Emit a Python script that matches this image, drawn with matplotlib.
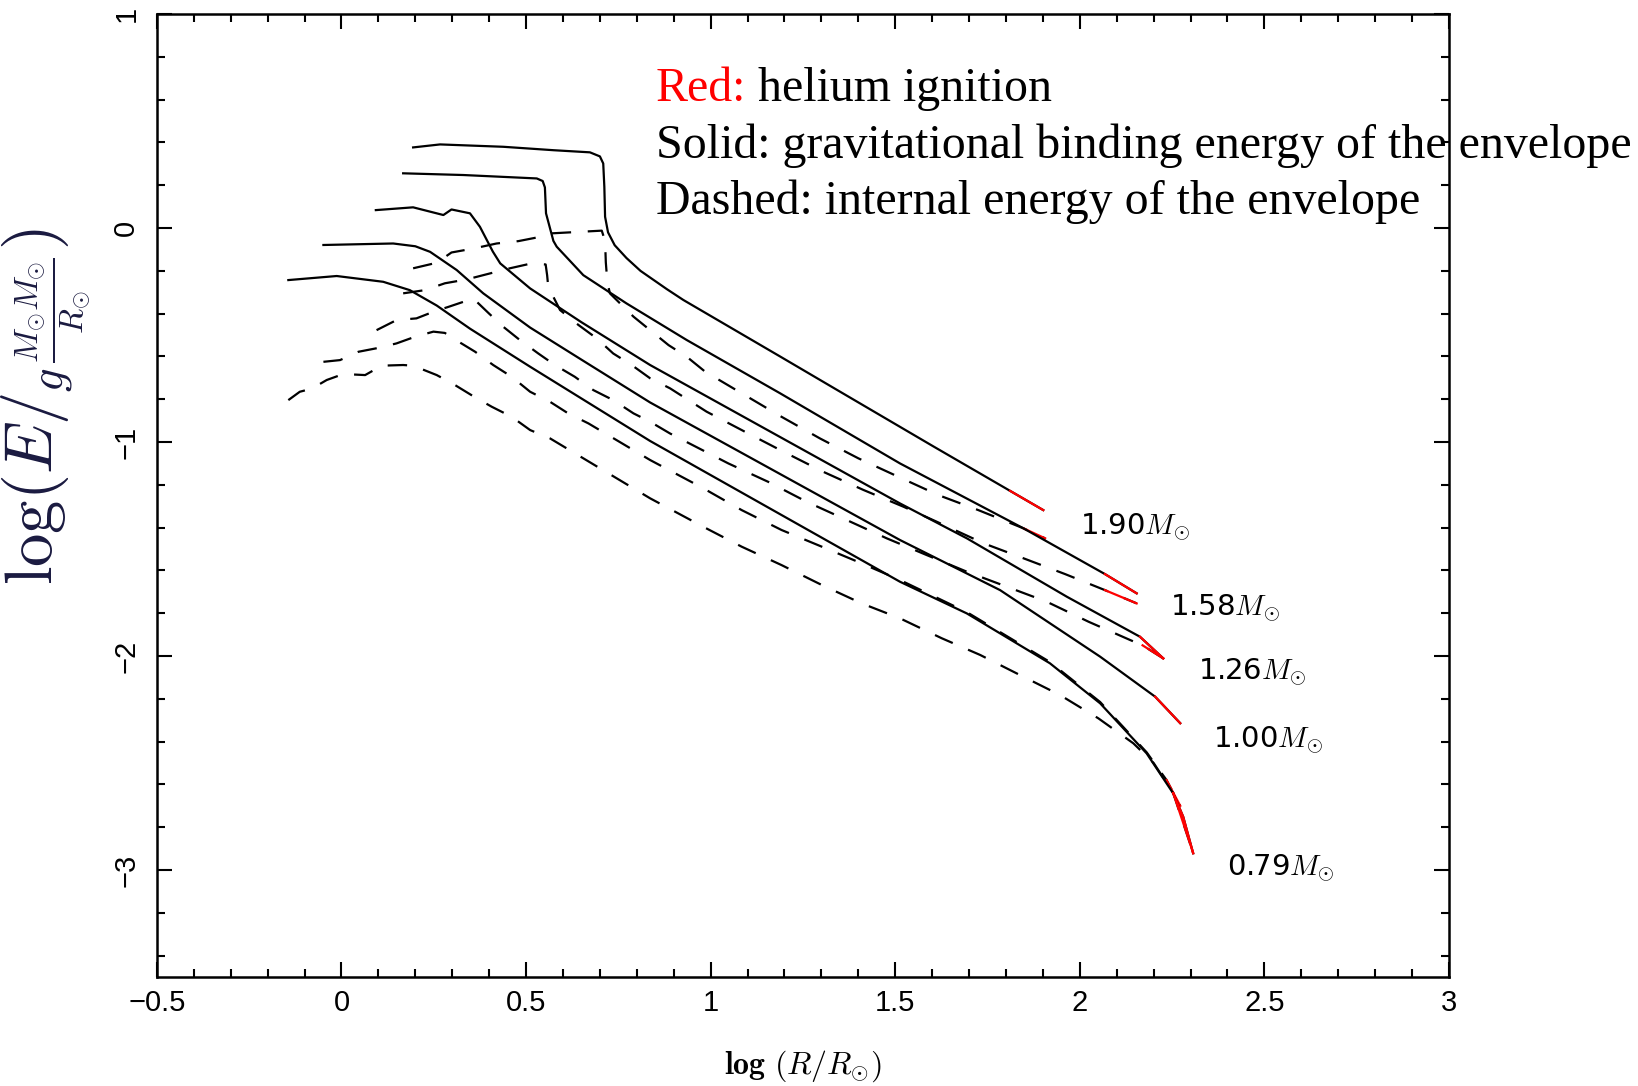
import numpy as np
import matplotlib.pyplot as plt
from matplotlib.ticker import MultipleLocator, FuncFormatter

plt.rcParams['lines.scale_dashes'] = False

masses = ['1.90', '1.58', '1.26', '1.00', '0.79']

# solid: gravitational binding energy of the envelope
grav_x_190 = [0.194, 0.267, 0.438, 0.574, 0.673, 0.700, 0.709, 0.712, 0.714, 0.722, 0.740, 0.772, 0.810, 0.881, 0.926, 1.188, 1.341, 1.603, 1.811, 1.901]
grav_y_190 = [0.377, 0.391, 0.380, 0.364, 0.354, 0.335, 0.302, 0.193, 0.053, -0.020, -0.080, -0.140, -0.200, -0.285, -0.336, -0.600, -0.755, -1.020, -1.228, -1.318]
grav_x_158 = [0.167, 0.330, 0.529, 0.545, 0.551, 0.554, 0.574, 0.583, 0.655, 0.772, 0.935, 1.188, 1.513, 1.847, 2.068, 2.154]
grav_y_158 = [0.256, 0.248, 0.232, 0.220, 0.190, 0.069, -0.060, -0.087, -0.220, -0.352, -0.523, -0.772, -1.100, -1.403, -1.617, -1.707]
grav_x_126 = [0.093, 0.194, 0.276, 0.298, 0.348, 0.375, 0.410, 0.430, 0.511, 0.650, 0.836, 1.513, 1.694, 1.965, 2.163, 2.226]
grav_y_126 = [0.084, 0.097, 0.061, 0.087, 0.069, 0.006, -0.110, -0.165, -0.282, -0.440, -0.640, -1.287, -1.450, -1.723, -1.910, -2.011]
grav_x_100 = [-0.049, 0.140, 0.200, 0.240, 0.312, 0.384, 0.511, 0.650, 0.836, 1.513, 1.784, 2.055, 2.204, 2.272]
grav_y_100 = [-0.079, -0.072, -0.085, -0.111, -0.196, -0.305, -0.465, -0.615, -0.815, -1.458, -1.692, -2.003, -2.190, -2.314]
grav_x_079 = [-0.144, -0.013, 0.113, 0.185, 0.258, 0.348, 0.511, 0.836, 1.513, 1.694, 1.919, 2.055, 2.181, 2.253, 2.280, 2.307]
grav_y_079 = [-0.243, -0.224, -0.251, -0.290, -0.362, -0.470, -0.648, -0.995, -1.653, -1.801, -2.034, -2.221, -2.455, -2.642, -2.751, -2.922]

# dashed: internal energy of the envelope
int_x_190 = [0.194, 0.258, 0.298, 0.359, 0.420, 0.479, 0.538, 0.565, 0.651, 0.705, 0.714, 0.716, 0.720, 0.727, 0.791, 0.836, 0.886, 0.935, 0.985, 1.084, 1.192, 1.296, 1.400, 1.508, 1.617, 1.725, 1.847, 1.906]
int_y_190 = [-0.188, -0.162, -0.114, -0.095, -0.072, -0.061, -0.041, -0.025, -0.017, -0.012, -0.060, -0.160, -0.250, -0.305, -0.414, -0.477, -0.547, -0.601, -0.671, -0.772, -0.882, -0.983, -1.076, -1.162, -1.248, -1.318, -1.403, -1.450]
int_x_158 = [0.167, 0.226, 0.280, 0.339, 0.402, 0.456, 0.515, 0.553, 0.557, 0.560, 0.592, 0.642, 0.691, 0.736, 0.786, 0.836, 0.890, 0.989, 1.093, 1.197, 1.305, 1.414, 1.522, 1.612, 1.739, 1.847, 1.960, 2.068, 2.154]
int_y_158 = [-0.305, -0.290, -0.258, -0.240, -0.212, -0.188, -0.165, -0.170, -0.220, -0.274, -0.383, -0.453, -0.515, -0.586, -0.640, -0.702, -0.749, -0.858, -0.952, -1.045, -1.139, -1.224, -1.302, -1.372, -1.473, -1.543, -1.617, -1.692, -1.754]
int_x_126 = [0.095, 0.149, 0.203, 0.249, 0.290, 0.357, 0.400, 0.438, 0.483, 0.533, 0.578, 0.632, 0.682, 0.736, 0.791, 0.836, 0.890, 1.048, 1.156, 1.260, 1.368, 1.477, 1.585, 1.694, 1.802, 1.910, 2.024, 2.136, 2.170, 2.226]
int_y_126 = [-0.477, -0.430, -0.422, -0.391, -0.368, -0.329, -0.400, -0.461, -0.523, -0.586, -0.640, -0.695, -0.757, -0.804, -0.866, -0.905, -0.960, -1.100, -1.186, -1.279, -1.364, -1.450, -1.528, -1.606, -1.676, -1.746, -1.840, -1.925, -1.950, -2.011]
int_x_100 = [-0.049, -0.004, 0.046, 0.100, 0.149, 0.199, 0.249, 0.280, 0.303, 0.362, 0.411, 0.461, 0.511, 0.565, 0.614, 0.669, 0.836, 0.980, 1.084, 1.192, 1.301, 1.409, 1.513, 1.694, 1.919, 2.055, 2.181, 2.235, 2.272]
int_y_100 = [-0.625, -0.617, -0.578, -0.560, -0.539, -0.508, -0.484, -0.490, -0.516, -0.578, -0.640, -0.695, -0.765, -0.812, -0.866, -0.913, -1.084, -1.216, -1.318, -1.411, -1.489, -1.567, -1.645, -1.795, -2.028, -2.215, -2.450, -2.580, -2.700]
int_x_079 = [-0.144, -0.113, -0.080, -0.040, 0.005, 0.064, 0.109, 0.167, 0.194, 0.258, 0.303, 0.359, 0.407, 0.461, 0.511, 0.565, 0.836, 0.980, 1.084, 1.192, 1.301, 1.409, 1.513, 1.626, 1.730, 1.838, 1.946, 2.050, 2.145, 2.200, 2.253, 2.307]
int_y_079 = [-0.804, -0.765, -0.750, -0.710, -0.682, -0.687, -0.643, -0.640, -0.643, -0.687, -0.729, -0.788, -0.835, -0.882, -0.944, -0.983, -1.263, -1.396, -1.489, -1.575, -1.668, -1.754, -1.824, -1.917, -1.995, -2.089, -2.182, -2.291, -2.408, -2.500, -2.640, -2.920]

# where helium ignition starts (red)
he_grav = [1.811, 2.068, 2.163, 2.204, 2.253]
he_int = [1.847, 2.068, 2.170, 2.235, 2.253]

# label positions
label_x = [2.001, 2.245, 2.321, 2.362, 2.398]
label_y = [-1.435, -1.816, -2.112, -2.431, -3.031]

grav = [(grav_x_190, grav_y_190), (grav_x_158, grav_y_158), (grav_x_126, grav_y_126),
        (grav_x_100, grav_y_100), (grav_x_079, grav_y_079)]
intl = [(int_x_190, int_y_190), (int_x_158, int_y_158), (int_x_126, int_y_126),
        (int_x_100, int_y_100), (int_x_079, int_y_079)]

fig = plt.figure(figsize=(16.38, 10.86), dpi=100)
ax = fig.add_axes([0.0958, 0.1004, 0.7888, 0.8866])

lw = 1.6
dash = (0, (14, 12))
for i in range(5):
    gx, gy = np.array(grav[i][0]), np.array(grav[i][1])
    ix, iy = np.array(intl[i][0]), np.array(intl[i][1])
    ax.plot(gx, gy, color='black', lw=lw)
    ax.plot(ix, iy, color='black', lw=lw, linestyle=dash)
    m = gx >= he_grav[i]
    ax.plot(gx[m], gy[m], color='red', lw=lw)
    m = ix >= he_int[i]
    ax.plot(ix[m], iy[m], color='red', lw=lw)
    ax.text(label_x[i], label_y[i], masses[i] + r'$M_{\odot}$', fontsize=21,
            family='DejaVu Sans', math_fontfamily='cm', va='baseline', ha='left')

ax.set_xlim(-0.5, 3)
ax.set_ylim(-3.5, 1)
ax.xaxis.set_major_locator(MultipleLocator(0.5))
ax.xaxis.set_minor_locator(MultipleLocator(0.1))
ax.yaxis.set_major_locator(MultipleLocator(1))
ax.yaxis.set_minor_locator(MultipleLocator(0.2))
fmt = FuncFormatter(lambda v, p: f'{v:g}'.replace('-', '\u2212'))
ax.xaxis.set_major_formatter(fmt)
ax.yaxis.set_major_formatter(fmt)
ax.tick_params(which='both', direction='in', top=True, right=True, width=1.5)
ax.tick_params(which='major', length=11)
ax.tick_params(which='minor', length=6)
ax.tick_params(axis='x', labelsize=21, pad=9)
ax.tick_params(axis='y', labelsize=21, pad=12, labelrotation=90)
for lab in ax.get_xticklabels() + ax.get_yticklabels():
    lab.set_family('Liberation Sans')
for lab in ax.get_yticklabels():
    lab.set_va('center')
for s in ax.spines.values():
    s.set_linewidth(1.8)

fig.text(0.490, 0.018, r'$\mathbf{log}\ (R/R_{\odot})$', fontsize=23,
         math_fontfamily='cm', ha='center', va='center')
fig.text(0.028, 0.626, r'$\log(E/_{g\,\frac{M_{\odot}M_{\odot}}{R_{\odot}}})$',
         fontsize=48, math_fontfamily='cm', rotation=90, ha='center', va='center',
         color='#1a1a40')

# note text
serif = 'Liberation Serif'
t1 = fig.text(0.4005, 0.907, 'Red:', fontsize=34.5, family=serif, color='red', va='baseline')
ax.annotate(' helium ignition', xy=(1, 0), xycoords=t1, fontsize=34.5, family=serif,
            va='bottom', ha='left', annotation_clip=False)
fig.text(0.4005, 0.8545, 'Solid: gravitational binding energy of the envelope',
         fontsize=34.5, family=serif, va='baseline')
fig.text(0.4005, 0.803, 'Dashed: internal energy of the envelope',
         fontsize=34.5, family=serif, va='baseline')

fig.savefig('out.png', dpi=100)
